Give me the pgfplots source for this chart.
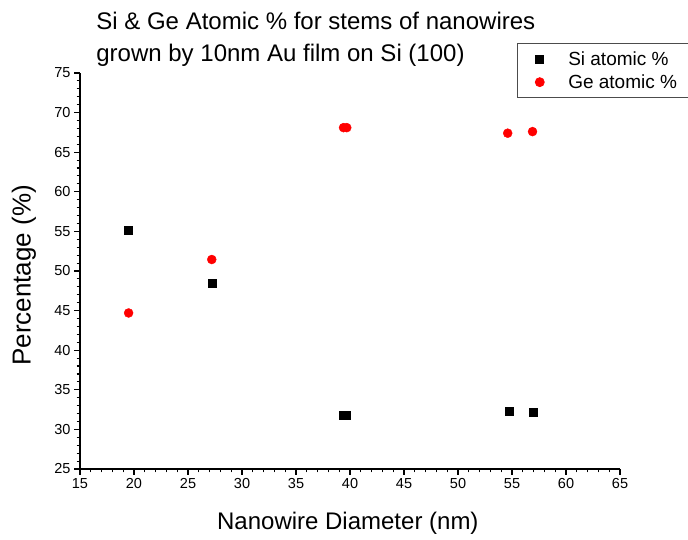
\documentclass[border=0pt]{standalone}
\usepackage{pgfplots}
\pgfplotsset{compat=1.18}
\usepackage{fontspec}
\setmainfont{Liberation Sans}

\begin{document}
\begin{tikzpicture}[x=1bp,y=1bp]
\path[use as bounding box] (0,0) rectangle (688,540);
\begin{axis}[
  at={(80bp,71bp)}, anchor=south west,
  scale only axis, width=540bp, height=396bp,
  xmin=15, xmax=65, ymin=25, ymax=75,
  xtick={15,20,...,65}, ytick={25,30,...,75},
  minor tick num=4,
  axis x line*=bottom, axis y line*=left,
  axis line style={line width=1.3bp},
  tick align=outside,
  major tick length=6bp, minor tick length=3.5bp,
  every tick/.style={line width=1.1bp, black},
  /pgf/number format/assume math mode=true,
  ticklabel style={font=\fontsize{14.5bp}{16bp}\selectfont},
  xlabel={Nanowire Diameter (nm)},
  ylabel={Percentage (\%)},
  xlabel style={at={(axis description cs:0.496,-0.136)}, anchor=center,
    font=\fontsize{24bp}{28bp}\selectfont},
  ylabel style={at={(axis description cs:-0.104,0.489)}, anchor=center,
    font=\fontsize{26bp}{30bp}\selectfont},
  title={Si \& Ge Atomic \% for stems of nanowires\\grown by 10nm Au film on Si (100)},
  title style={at={(axis description cs:0.03,1.138)}, anchor=north west, align=left,
    font=\fontsize{24bp}{32bp}\selectfont, inner sep=0pt},
  legend style={at={(axis description cs:0.809,1.076)}, anchor=north west,
    draw=black!70, line width=0.8bp, font=\fontsize{19bp}{20bp}\selectfont,
    inner xsep=18bp, inner ysep=6bp, row sep=4bp,
    /tikz/every odd column/.append style={column sep=22bp}},
  legend cell align=left,
  clip=false,
]
\addplot[only marks, mark=square*, mark size=4bp, black] coordinates {
  (19.5,55.1) (27.2,48.4) (39.35,31.75) (39.65,31.8) (54.7,32.3) (57.0,32.2)
};
\addlegendentry{Si atomic \%}
\addplot[only marks, mark=*, mark size=4.5bp, red, mark options={fill=red, draw=red}] coordinates {
  (19.5,44.7) (27.2,51.45) (39.4,68.1) (39.7,68.1) (54.6,67.4) (56.9,67.6)
};
\addlegendentry{Ge atomic \%}
\end{axis}
\end{tikzpicture}
\end{document}
